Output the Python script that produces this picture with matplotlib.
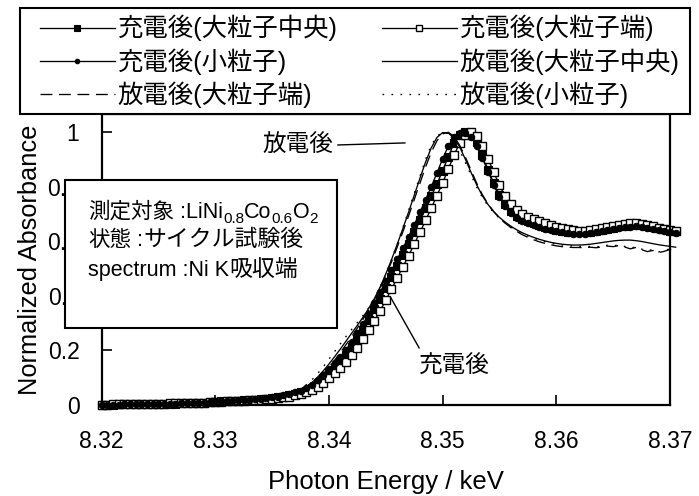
import numpy as np
import matplotlib
matplotlib.use("Agg")
import matplotlib.pyplot as plt
from matplotlib.patches import Rectangle
from matplotlib.font_manager import FontProperties

# ---- data -------------------------------------------------------------
energy = np.round(8.320 + 0.0005 * np.arange(102), 4)   # keV sampling grid

charged_center = [
    0.000, 0.001, 0.001, 0.002, 0.002, 0.003, 0.003, 0.003, 0.004, 0.004,
    0.004, 0.005, 0.005, 0.005, 0.006, 0.006, 0.007, 0.007, 0.008, 0.010,
    0.012, 0.013, 0.014, 0.015, 0.016, 0.017, 0.018, 0.019, 0.021, 0.023,
    0.025, 0.028, 0.031, 0.035, 0.040, 0.046, 0.052, 0.064, 0.080, 0.098,
    0.116, 0.136, 0.158, 0.183, 0.211, 0.241, 0.275, 0.312, 0.350, 0.390,
    0.430, 0.470, 0.510, 0.550, 0.590, 0.632, 0.676, 0.720, 0.765, 0.810,
    0.858, 0.910, 0.958, 0.988, 1.000, 0.993, 0.962, 0.915, 0.862, 0.812,
    0.770, 0.736, 0.711, 0.694, 0.683, 0.674, 0.667, 0.660, 0.653, 0.647,
    0.642, 0.638, 0.635, 0.633, 0.632, 0.633, 0.635, 0.638, 0.642, 0.646,
    0.650, 0.654, 0.657, 0.659, 0.660, 0.658, 0.655, 0.651, 0.647, 0.643,
    0.639, 0.636]

charged_edge = [
    0.001, 0.001, 0.002, 0.002, 0.003, 0.003, 0.003, 0.004, 0.004, 0.005,
    0.005, 0.005, 0.006, 0.006, 0.007, 0.007, 0.008, 0.008, 0.009, 0.010,
    0.011, 0.012, 0.013, 0.014, 0.015, 0.016, 0.017, 0.018, 0.019, 0.021,
    0.023, 0.025, 0.028, 0.031, 0.035, 0.040, 0.046, 0.055, 0.067, 0.082,
    0.098, 0.116, 0.136, 0.158, 0.183, 0.210, 0.240, 0.273, 0.308, 0.345,
    0.384, 0.424, 0.465, 0.506, 0.547, 0.589, 0.632, 0.676, 0.721, 0.767,
    0.814, 0.864, 0.915, 0.960, 0.990, 1.000, 0.985, 0.950, 0.902, 0.852,
    0.805, 0.765, 0.735, 0.714, 0.700, 0.690, 0.681, 0.673, 0.665, 0.658,
    0.652, 0.647, 0.643, 0.640, 0.639, 0.639, 0.641, 0.644, 0.648, 0.652,
    0.656, 0.660, 0.663, 0.665, 0.666, 0.664, 0.660, 0.655, 0.650, 0.646,
    0.642, 0.639]

charged_small = [
    0.000, 0.000, 0.001, 0.001, 0.002, 0.002, 0.003, 0.003, 0.003, 0.004,
    0.004, 0.004, 0.005, 0.005, 0.006, 0.006, 0.007, 0.008, 0.009, 0.011,
    0.013, 0.014, 0.015, 0.016, 0.017, 0.018, 0.019, 0.021, 0.023, 0.025,
    0.028, 0.031, 0.035, 0.040, 0.046, 0.053, 0.062, 0.075, 0.092, 0.111,
    0.131, 0.153, 0.177, 0.203, 0.232, 0.263, 0.297, 0.334, 0.373, 0.413,
    0.453, 0.493, 0.533, 0.574, 0.616, 0.660, 0.706, 0.752, 0.800, 0.850,
    0.902, 0.948, 0.980, 0.997, 0.998, 0.982, 0.950, 0.905, 0.855, 0.806,
    0.763, 0.728, 0.703, 0.686, 0.675, 0.666, 0.658, 0.651, 0.645, 0.640,
    0.636, 0.632, 0.629, 0.627, 0.626, 0.627, 0.629, 0.632, 0.636, 0.640,
    0.644, 0.648, 0.651, 0.653, 0.654, 0.652, 0.649, 0.645, 0.641, 0.637,
    0.633, 0.630]

discharged_center = [
    0.000, 0.001, 0.001, 0.002, 0.002, 0.003, 0.003, 0.004, 0.004, 0.005,
    0.005, 0.006, 0.006, 0.007, 0.007, 0.008, 0.009, 0.010, 0.011, 0.012,
    0.013, 0.014, 0.015, 0.016, 0.017, 0.018, 0.020, 0.022, 0.025, 0.028,
    0.031, 0.034, 0.038, 0.042, 0.046, 0.055, 0.066, 0.082, 0.102, 0.125,
    0.150, 0.177, 0.205, 0.234, 0.263, 0.292, 0.322, 0.354, 0.390, 0.432,
    0.480, 0.532, 0.588, 0.646, 0.706, 0.768, 0.830, 0.890, 0.942, 0.980,
    0.998, 0.996, 0.978, 0.945, 0.900, 0.852, 0.806, 0.766, 0.734, 0.708,
    0.687, 0.670, 0.655, 0.642, 0.631, 0.622, 0.614, 0.607, 0.601, 0.596,
    0.592, 0.589, 0.587, 0.586, 0.586, 0.587, 0.589, 0.592, 0.595, 0.598,
    0.601, 0.603, 0.604, 0.604, 0.602, 0.599, 0.595, 0.591, 0.587, 0.584,
    0.581, 0.578]

discharged_edge = [
    0.001, 0.001, 0.002, 0.002, 0.002, 0.003, 0.003, 0.004, 0.004, 0.004,
    0.005, 0.005, 0.006, 0.006, 0.007, 0.008, 0.008, 0.009, 0.010, 0.011,
    0.012, 0.013, 0.014, 0.015, 0.016, 0.017, 0.019, 0.021, 0.023, 0.025,
    0.027, 0.030, 0.034, 0.038, 0.043, 0.051, 0.061, 0.075, 0.093, 0.114,
    0.138, 0.164, 0.192, 0.221, 0.251, 0.282, 0.314, 0.348, 0.386, 0.428,
    0.474, 0.524, 0.578, 0.634, 0.692, 0.752, 0.812, 0.872, 0.926, 0.968,
    0.993, 0.999, 0.984, 0.951, 0.908, 0.860, 0.812, 0.770, 0.736, 0.708,
    0.685, 0.666, 0.650, 0.636, 0.624, 0.614, 0.605, 0.598, 0.592, 0.587,
    0.583, 0.580, 0.578, 0.577, 0.577, 0.576, 0.578, 0.576, 0.579, 0.582,
    0.580, 0.584, 0.579, 0.572, 0.577, 0.569, 0.562, 0.566, 0.558, 0.563,
    0.570, 0.574]

discharged_small = [
    0.000, 0.000, 0.001, 0.001, 0.002, 0.002, 0.003, 0.003, 0.003, 0.004,
    0.004, 0.005, 0.005, 0.006, 0.006, 0.007, 0.008, 0.009, 0.010, 0.012,
    0.014, 0.015, 0.016, 0.017, 0.018, 0.020, 0.022, 0.024, 0.027, 0.030,
    0.034, 0.038, 0.042, 0.046, 0.050, 0.060, 0.074, 0.092, 0.115, 0.140,
    0.168, 0.196, 0.224, 0.251, 0.277, 0.302, 0.328, 0.357, 0.390, 0.432,
    0.480, 0.533, 0.590, 0.650, 0.712, 0.775, 0.838, 0.900, 0.952, 0.985,
    1.000, 0.994, 0.968, 0.932, 0.888, 0.842, 0.798, 0.760, 0.729, 0.704,
    0.684, 0.667, 0.652, 0.639, 0.628, 0.619, 0.611, 0.604, 0.598, 0.593,
    0.589, 0.586, 0.584, 0.582, 0.581, 0.580, 0.581, 0.579, 0.582, 0.585,
    0.583, 0.586, 0.581, 0.575, 0.579, 0.571, 0.566, 0.569, 0.561, 0.566,
    0.572, 0.575]

series_labels = ["充電後(大粒子中央)", "充電後(大粒子端)", "充電後(小粒子)",
                 "放電後(大粒子中央)", "放電後(大粒子端)", "放電後(小粒子)"]
x_ticks = [8.32, 8.33, 8.34, 8.35, 8.36, 8.37]
y_ticks = [0, 0.2, 0.4, 0.6, 0.8, 1]
y_tick_labels = ["0", "0.2", "0.4", "0.6", "0.8", "1"]

# ---- fonts ------------------------------------------------------------
LATIN = ["Liberation Sans", "Noto Sans CJK JP"]
CJK = ["Noto Sans CJK JP", "Liberation Sans"]

W, H = 699, 496
fig = plt.figure(figsize=(W / 100, H / 100), dpi=100)

# axes frame in pixel terms
ax_l, ax_r, ax_t, ax_b = 101.6, 670.0, 114.0, 405.0
ax = fig.add_axes([ax_l / W, 1 - ax_b / H, (ax_r - ax_l) / W, (ax_b - ax_t) / H])

styles = [
    dict(ls="-", marker="s", ms=5.2, mfc="black", mec="black", mew=0.8),
    dict(ls="-", marker="s", ms=5.5, mfc="white", mec="black", mew=1.0),
    dict(ls="-", marker="o", ms=4.6, mfc="black", mec="black", mew=0.8),
    dict(ls="-"),
    dict(ls=(0, (9, 5))),
    dict(ls=(0, (1.3, 5.5))),
]
series = [charged_center, charged_edge, charged_small,
          discharged_center, discharged_edge, discharged_small]

handles = []
for vals, st, lab in zip(series, styles, series_labels):
    (ln,) = ax.plot(energy, vals, color="black", lw=0.95, clip_on=False,
                    label=lab, **st)
    handles.append(ln)

ax.set_xlim(8.32, 8.37)
ax.set_ylim(0, (ax_b - ax_t) / 273.0)
ax.set_xticks(x_ticks)
ax.set_xticklabels([f"{v:.2f}" for v in x_ticks])
ax.set_yticks(y_ticks)
ax.set_yticklabels(y_tick_labels)
for lab in ax.get_xticklabels() + ax.get_yticklabels():
    lab.set_fontfamily(LATIN)
    lab.set_fontsize(16.5)
ax.tick_params(axis="both", direction="in", length=7, width=1.2)
ax.tick_params(axis="x", pad=18)
ax.tick_params(axis="y", pad=16)
for side in ("left", "bottom", "right", "top"):
    ax.spines[side].set_linewidth(1.6)

ax.set_xlabel("Photon Energy / keV", fontfamily=LATIN, fontsize=18.5, labelpad=12)
ax.set_ylabel("Normalized Absorbance", fontfamily=LATIN, fontsize=18.3, labelpad=4)

# callouts
ax.annotate("放電後", xy=(8.3467, 0.960), xytext=(8.3404, 0.952),
            ha="right", va="center", fontfamily=CJK, fontsize=17,
            arrowprops=dict(arrowstyle="-", color="black", lw=1.0,
                            shrinkA=1, shrinkB=0, relpos=(1.0, 0.5)))
ax.annotate("充電後", xy=(8.3454, 0.396), xytext=(8.3510, 0.143),
            ha="center", va="center", fontfamily=CJK, fontsize=17,
            arrowprops=dict(arrowstyle="-", color="black", lw=1.0,
                            shrinkA=3, shrinkB=0, relpos=(0.06, 1.0)))

# legend: framed block above the axes, two columns filled row by row
fig.add_artist(Rectangle((20 / W, 1 - 114 / H), 670 / W, 106 / H,
                         transform=fig.transFigure, facecolor="white",
                         edgecolor="black", lw=1.5, zorder=4))
leg_font = FontProperties(family=LATIN, size=18.3)
for col, x0 in ((0, 40), (1, 382)):
    idx = [0, 2, 4] if col == 0 else [1, 3, 5]
    lg = fig.legend([handles[i] for i in idx], [series_labels[i] for i in idx],
                    loc="upper left", bbox_to_anchor=(x0 / W, 1 - 15 / H),
                    bbox_transform=fig.transFigure, borderaxespad=0,
                    borderpad=0, frameon=False, prop=leg_font,
                    handlelength=2.95, handletextpad=0.1, labelspacing=0.27,
                    markerscale=0.7)
    lg.set_zorder(6)

# condition box
fig.add_artist(Rectangle((65 / W, 1 - 328 / H), (337 - 65) / W, (328 - 180) / H,
                         transform=fig.transFigure, facecolor="white",
                         edgecolor="black", lw=1.5, zorder=10))

renderer = fig.canvas.get_renderer()


def text_runs(x_px, base_px, runs):
    """Write text pieces one after another on a common baseline."""
    x = x_px
    for s, fam, size, dy in runs:
        t = fig.text(x / W, 1 - (base_px + dy) / H, s, fontfamily=fam,
                     fontsize=size, ha="left", va="baseline", zorder=11)
        x = t.get_window_extent(renderer).x1


C, L, S = 15.5, 15.5, 11
text_runs(88, 218, [("測定対象", CJK, C, 0), (" :LiNi", LATIN, L, 0),
                    ("0.8", LATIN, S, 5), ("Co", LATIN, L, 0),
                    ("0.6", LATIN, S, 5), ("O", LATIN, L, 0),
                    ("2", LATIN, S, 5)])
text_runs(88, 246, [("状態", CJK, C, 0), (" :", LATIN, L, 0),
                    ("サイクル試験後", CJK, 16.5, 0)])
text_runs(88, 276, [("spectrum :Ni K", LATIN, L, 0), ("吸収端", CJK, 16.5, 0)])

fig.savefig("out.png", dpi=100)
